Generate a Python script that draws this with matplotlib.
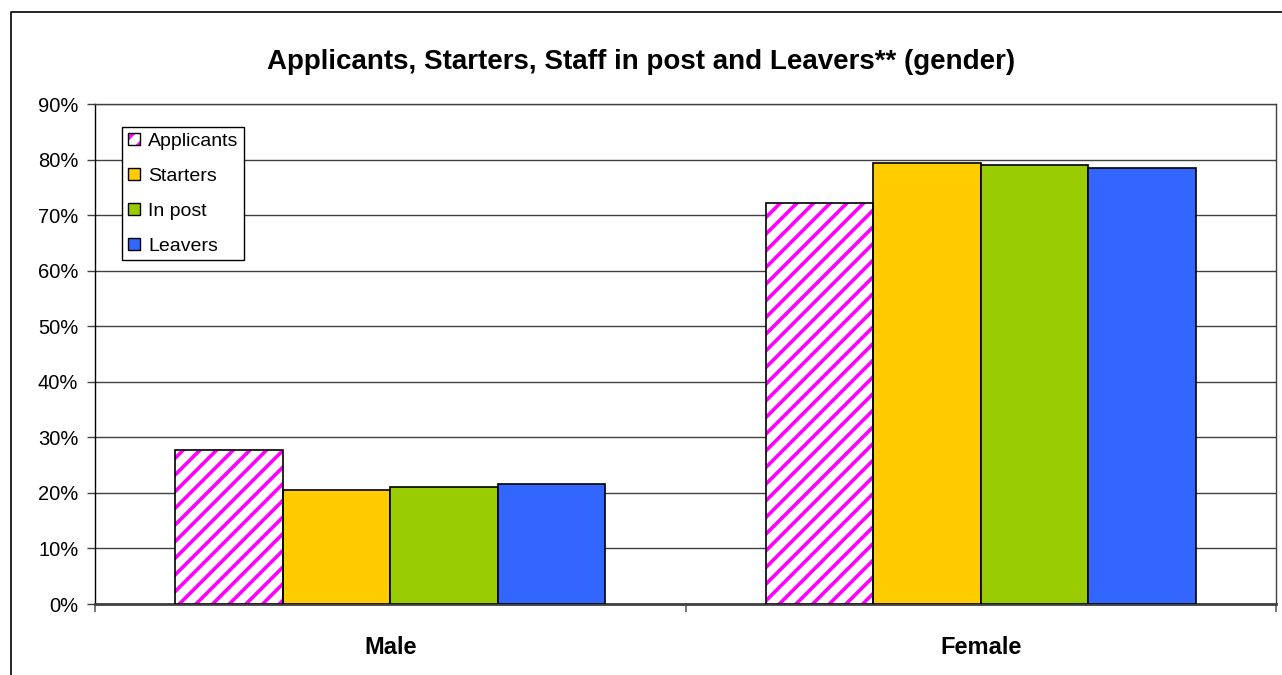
import matplotlib.pyplot as plt
import numpy as np
from matplotlib.lines import Line2D
from matplotlib.patches import Patch
from matplotlib.legend_handler import HandlerTuple
from matplotlib.ticker import PercentFormatter

plt.rcParams['font.family'] = ['Liberation Sans', 'DejaVu Sans']
plt.rcParams['hatch.linewidth'] = 2.6

# Share of each gender by staff group
categories = ['Male', 'Female']
series_names = ['Applicants', 'Starters', 'In post', 'Leavers']
applicants = [0.278, 0.722]
starters = [0.206, 0.794]
in_post = [0.210, 0.790]
leavers = [0.216, 0.784]
y_ticks = [0.0, 0.1, 0.2, 0.3, 0.4, 0.5, 0.6, 0.7, 0.8, 0.9]

series = [applicants, starters, in_post, leavers]
colors = ['white', '#FFCC00', '#99CC00', '#3366FF']
hatch_color = '#FF00FF'

W, H = 1282, 675
fig = plt.figure(figsize=(W / 100, H / 100), dpi=100)
ax = fig.add_axes([95 / W, 1 - 604 / H, (1276 - 95) / W, (604 - 104) / H])

x = np.arange(len(categories))
width = 0.182
handles = []
for i, (name, vals, col) in enumerate(zip(series_names, series, colors)):
    pos = x + (i - 1.5) * width
    if i == 0:
        # striped fill drawn first, black outline on top
        ax.bar(pos, vals, width, color='white', edgecolor=hatch_color,
               hatch='//', linewidth=0, zorder=3)
        ax.bar(pos, vals, width, fill=False, edgecolor='black',
               linewidth=1.2, zorder=4)
        h = (Patch(facecolor='white', edgecolor=hatch_color, hatch='//', linewidth=0),
             Patch(fill=False, edgecolor='black', linewidth=1.0))
    else:
        ax.bar(pos, vals, width, color=col, edgecolor='black',
               linewidth=1.2, zorder=3)
        h = Patch(facecolor=col, edgecolor='black', linewidth=1.0)
    handles.append(h)

ax.set_xlim(-0.5, 1.5)
ax.set_ylim(0, 0.9)
ax.set_yticks(y_ticks)
ax.yaxis.set_major_formatter(PercentFormatter(1.0, decimals=0))
ax.yaxis.grid(True, color='#404040', linewidth=1.0, zorder=1)
ax.set_axisbelow(True)

ax.set_xticks(x)
ax.set_xticklabels(categories, fontsize=17, fontweight='bold')
ax.set_xticks([-0.5, 0.5, 1.5], minor=True)
ax.tick_params(axis='x', which='major', length=0, pad=23)
ax.tick_params(axis='x', which='minor', length=6, width=1.2, color='#606060')
ax.tick_params(axis='y', length=6, width=1.0, color='#404040', pad=6, labelsize=14.5)

for side in ['top', 'right']:
    ax.spines[side].set_color('#404040')
    ax.spines[side].set_linewidth(1.0)
ax.spines['left'].set_color('black')
ax.spines['left'].set_linewidth(1.0)
ax.spines['bottom'].set_color('#404040')
ax.spines['bottom'].set_linewidth(2.0)

leg = ax.legend(handles, series_names, loc='upper left',
                bbox_to_anchor=((122 - 95) / (1276 - 95), 1 - (127 - 104) / 500),
                handler_map={tuple: HandlerTuple(ndivide=1, pad=0)},
                fontsize=14, frameon=True, fancybox=False, framealpha=1,
                edgecolor='black', handlelength=0.6, handleheight=0.6,
                handletextpad=0.45, labelspacing=0.92, borderpad=0.3,
                borderaxespad=0)
leg.get_frame().set_linewidth(1.0)
leg.set_zorder(5)

fig.text(641 / W, 1 - 62 / H, 'Applicants, Starters, Staff in post and Leavers** (gender)',
         ha='center', va='center', fontsize=20, fontweight='bold')

# outer chart frame (left and top edges)
fig.add_artist(Line2D([11 / W, 11 / W, 1.0], [0.0, 1 - 12 / H, 1 - 12 / H],
                      transform=fig.transFigure, color='black', linewidth=1.2))

fig.savefig('out.png', dpi=100)
